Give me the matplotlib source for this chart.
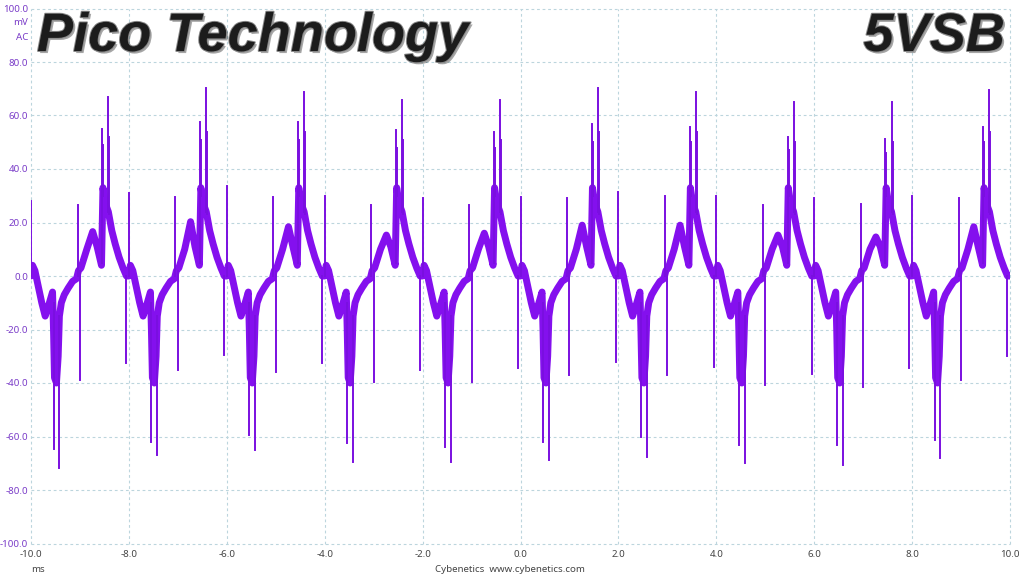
import numpy as np
import matplotlib
matplotlib.use("Agg")
import matplotlib.pyplot as plt
import matplotlib.patheffects as pe

# ---------------- data ----------------
cycle_starts = [-10, -8, -6, -4, -2, 0, 2, 4, 6, 8]          # ms, one cycle = 2 ms

# band (thick trace) shape inside one cycle: offset from cycle start (ms) and level (mV)
band_offsets = [0.00, 0.03, 0.08, 0.15, 0.22, 0.29, 0.36, 0.44, 0.46, 0.48, 0.52,
                0.555, 0.58, 0.62, 0.68, 0.76, 0.85, 0.93, 0.97, 1.02, 1.14, 1.26,
                1.35, 1.44, 1.47, 1.52, 1.58, 1.65, 1.72, 1.80, 1.88, 1.95]
band_levels = [0.0, 4.0, 2.0, -4.0, -10.0, -15.0, -11.0, -6.0, -20.0, -38.0, -40.0,
               -30.0, -15.0, -10.0, -7.0, -4.5, -2.0, -1.0, 2.0, 3.0, 10.0, None,
               11.0, 4.0, 33.0, 27.0, 24.0, 17.0, 12.0, 7.0, 3.0, 0.0]
band_peak = [16.6, 20.3, 18.4, 15.3, 16.0, 19.0, 19.0, 15.3, 14.6, 18.4]   # triangle top per cycle

# spikes: offset in cycle (ms), level where spike leaves the band (mV)
spike_offsets = [0.00, 0.46, 0.58, 0.95, 1.00, 1.455, 1.475, 1.58, 1.60, 1.945]
spike_bases = [0.0, -10.0, -15.0, 0.0, 2.0, 5.0, 30.0, 24.0, 23.0, 0.0]
spike_up_start = [28.0, 31.0, 33.6, 30.0, 29.0, 29.6, 31.5, 30.0, 29.0, 30.0]
spike_dip1 = [-64.5, -62.0, -59.5, -62.5, -63.8, -62.0, -60.0, -63.0, -63.0, -61.3]
spike_dip2 = [-71.6, -67.0, -65.0, -69.4, -69.4, -68.8, -67.5, -70.0, -70.6, -68.1]
spike_mid_up = [26.5, 29.6, 29.6, 26.5, 26.5, 29.0, 30.0, 26.5, 27.0, 29.0]
spike_mid_down = [-39.0, -35.0, -35.8, -39.5, -39.5, -37.0, -37.0, -40.7, -41.4, -38.9]
spike_big1 = [54.8, 57.6, 57.7, 54.6, 54.0, 57.0, 55.8, 52.0, 51.4, 55.8]
spike_big1b = [49.0, 51.0, 51.0, 48.0, 48.0, 50.0, 50.0, 47.0, 46.0, 50.0]
spike_big2 = [67.0, 70.2, 68.9, 65.8, 65.8, 70.2, 68.9, 65.0, 65.0, 69.5]
spike_big2b = [52.0, 54.0, 54.0, 51.0, 51.0, 54.0, 54.0, 50.0, 50.0, 54.0]
spike_end_down = [-32.6, -29.5, -32.5, -35.0, -34.4, -32.0, -34.0, -36.5, -34.4, -30.0]

x_ticks = [-10, -8, -6, -4, -2, 0, 2, 4, 6, 8, 10]
y_ticks = [-100, -80, -60, -40, -20, 0, 20, 40, 60, 80, 100]

# ---------------- build trace ----------------
bt, bv = [], []
for k, t0 in enumerate(cycle_starts):
    for off, lv in zip(band_offsets, band_levels):
        bt.append(t0 + off)
        bv.append(band_peak[k] if lv is None else lv)
bt.append(10.0)
bv.append(0.0)

spike_sets = [spike_up_start, spike_dip1, spike_dip2, spike_mid_up, spike_mid_down,
              spike_big1, spike_big1b, spike_big2, spike_big2b, spike_end_down]
st, sv = [], []
for k, t0 in enumerate(cycle_starts):
    for j, off in enumerate(spike_offsets):
        t = t0 + off
        if t > 9.97:
            t = 9.96
        st += [t, t, np.nan]
        sv += [spike_bases[j], spike_sets[j][k], np.nan]

# ---------------- figure ----------------
W, H = 1024, 576
fig = plt.figure(figsize=(W / 100, H / 100), dpi=100)
fig.patch.set_facecolor("white")
ax = fig.add_axes([31 / W, (H - 543.5) / H, 979 / W, 535 / H])
ax.set_xlim(-10, 10)
ax.set_ylim(-100, 100)
for s in ax.spines.values():
    s.set_visible(False)

grid_col = "#bcd5dd"
for x in x_ticks:
    ax.axvline(x, color=grid_col, lw=0.8, ls=(0, (2.5, 2.5)), zorder=0, clip_on=False)
for y in y_ticks:
    ax.axhline(y, color=grid_col, lw=0.8, ls=(0, (2.5, 2.5)), zorder=0, clip_on=False)

trace_col = "#8410ee"
ax.plot(bt, bv, color=trace_col, lw=5.0, solid_joinstyle="round", solid_capstyle="round", zorder=3)
ax.plot(st, sv, color="#7a0fe0", lw=1.4, zorder=4)

ax.set_xticks(x_ticks)
ax.set_xticklabels([f"{v:.1f}" for v in x_ticks])
ax.set_yticks(y_ticks)
ax.set_yticklabels([f"{v:.1f}" for v in y_ticks])
ax.tick_params(axis="both", length=0, labelsize=7)
ax.tick_params(axis="y", pad=2, labelcolor="#7a3cc8")
ax.tick_params(axis="x", pad=5, labelcolor="#444444")
for lab in ax.get_xticklabels() + ax.get_yticklabels():
    lab.set_family("Noto Sans")

ax.annotate("mV", xy=(0, 100), xycoords=("axes fraction", "data"), xytext=(-3, -14),
            textcoords="offset pixels", ha="right", va="center", fontsize=7,
            color="#7a3cc8", family="Noto Sans")
ax.annotate("AC", xy=(0, 100), xycoords=("axes fraction", "data"), xytext=(-3, -29),
            textcoords="offset pixels", ha="right", va="center", fontsize=7,
            color="#7a3cc8", family="Noto Sans")

fig.text(38 / W, 1 - 570 / H, "ms", fontsize=7, color="#444444", va="center", ha="center",
         family="Noto Sans")
fig.text(510 / W, 1 - 569 / H, "Cybenetics  www.cybenetics.com", fontsize=7,
         color="#444444", va="center", ha="center", family="Noto Sans")

effects = [pe.withSimplePatchShadow(offset=(1.5, -1.5), shadow_rgbFace="#000000", alpha=0.35),
           pe.Stroke(linewidth=1.4, foreground="#8a8a8a"), pe.Normal()]
fig.text(37 / W, 1 - 51 / H, "Pico Technology", fontsize=39, fontweight="bold",
         fontstyle="italic", family="Liberation Sans", color="#1c1c1c",
         ha="left", va="baseline", path_effects=effects, zorder=10)
fig.text(1005 / W, 1 - 51 / H, "5VSB", fontsize=39, fontweight="bold",
         fontstyle="italic", family="Liberation Sans", color="#1c1c1c",
         ha="right", va="baseline", path_effects=effects, zorder=10)

fig.savefig("out.png", dpi=100, facecolor="white")
